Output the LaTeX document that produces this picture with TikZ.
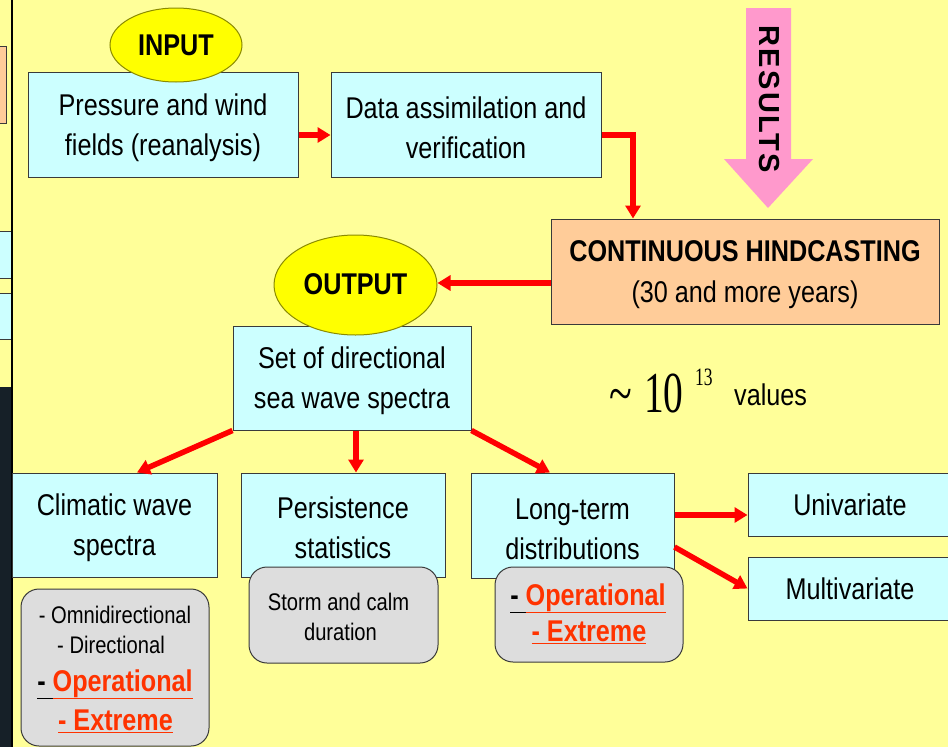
\documentclass[tikz,border=0pt]{standalone}
\usepackage{fontspec}
\usepackage{graphicx}
\setmainfont{Liberation Sans}[FakeStretch=0.84]
\newfontfamily\resfont{Liberation Sans}[LetterSpace=8]
\newfontfamily\timesfont{Liberation Serif}
\usetikzlibrary{shapes.geometric,arrows.meta}
\definecolor{bgyellow}{HTML}{FFFF99}
\definecolor{cyanfill}{HTML}{CCFFFF}
\definecolor{orangefill}{HTML}{FFCC99}
\definecolor{grayfill}{HTML}{DDDDDD}
\definecolor{boxline}{HTML}{3A3A3A}
\definecolor{ellfill}{HTML}{FFFF00}
\definecolor{ellline}{HTML}{8A8A00}
\definecolor{arrowred}{HTML}{FF0000}
\definecolor{opred}{HTML}{FF3300}
\definecolor{pinkarrow}{HTML}{FF99CC}
\definecolor{stripdark}{HTML}{162028}
\newcommand{\topstrut}{\rule{0pt}{28pt}}
\tikzset{
  cbox/.style={draw=boxline, fill=cyanfill, line width=1pt, align=center, inner sep=0pt, font=\fontsize{30}{40}\selectfont},
  obox/.style={draw=boxline, fill=orangefill, line width=1pt, align=center, inner sep=0pt, font=\fontsize{30}{41}\selectfont},
  gbox/.style={draw=boxline, fill=grayfill, rounded corners=18pt, line width=1pt, inner sep=0pt},
  ell/.style={ellipse, draw=ellline, fill=ellfill, line width=1pt, inner sep=0pt, font=\bfseries\fontsize{30}{30}\selectfont},
  redarrow/.style={draw=arrowred, line width=5.5pt, -{Triangle[length=13pt,width=15pt]}},
  lbl/.style={inner sep=0pt, anchor=base},
  small/.style={font=\fontsize{24}{24}\selectfont},
  big/.style={font=\bfseries\fontsize{30}{30}\selectfont, text=opred},
  numtext/.style={inner sep=0pt, anchor=base west},
}
\begin{document}
\begin{tikzpicture}[x=1pt,y=-1pt]
\useasboundingbox (0,0) rectangle (948,747);
\fill[bgyellow] (0,0) rectangle (948,747);
% left strip (cut-off slide parts)
\fill[stripdark] (0,387) rectangle (11,747);
\draw[boxline, fill=orangefill] (-5,46) rectangle (6,123);
\draw[boxline, fill=cyanfill] (-5,231) rectangle (11,278);
\draw[boxline, fill=cyanfill] (-5,293) rectangle (11,339);
\draw[black, line width=2pt] (11.5,-2) -- (11.5,749);

% results arrow
\fill[pinkarrow] (746,8) -- (791,8) -- (791,159) -- (813,159) -- (768,208) -- (724,159) -- (746,159) -- cycle;
\node[rotate=-90, inner sep=0pt, font=\resfont\bfseries\fontsize{29}{29}\selectfont] (res) at (769,99) {RESULTS};

% main boxes
\node[cbox, minimum width=270pt, minimum height=105pt] (press) at (163,124.5) {\topstrut Pressure and wind\\fields (reanalysis)};
\node[cbox, minimum width=270pt, minimum height=105pt] (data) at (466,124.5) {\topstrut Data assimilation and\\verification};
\node[obox, minimum width=388pt, minimum height=105pt] (hind) at (745,271.5) {\topstrut\textbf{CONTINUOUS HINDCASTING}\\(30 and more years)};
\node[cbox, minimum width=238pt, minimum height=104pt] (set) at (352,378) {\topstrut Set of directional\\sea wave spectra};
\node[cbox, minimum width=205pt, minimum height=104pt] (clim) at (114.5,525) {\topstrut Climatic wave\\spectra};
\node[cbox, minimum width=204pt, minimum height=104pt] (pers) at (343,525) {\topstrut Persistence\\statistics};
\node[cbox, minimum width=203pt, minimum height=105pt] (long) at (572.5,525.5) {\topstrut Long-term\\distributions};
\node[cbox, minimum width=204pt, minimum height=63pt] (uni) at (850,504.5) {Univariate};
\node[cbox, minimum width=204pt, minimum height=63pt] (multi) at (850,588.5) {Multivariate};

% ellipses
\node[ell, minimum width=132pt, minimum height=74pt] (inp) at (176,45) {INPUT};
\node[ell, minimum width=163pt, minimum height=100pt] (outp) at (355.5,285) {\raisebox{1.5pt}{OUTPUT}};

% gray sub boxes
\node[gbox, minimum width=188pt, minimum height=157pt] (climsub) at (115,667.5) {};
\node[gbox, minimum width=189pt, minimum height=96pt] (stormbox) at (343.5,615) {};
\node[gbox, minimum width=188pt, minimum height=95pt] (longsub) at (589,614.5) {};

\node[lbl, small] (omni) at (115,623) {- Omnidirectional};
\node[lbl, small] (dirl) at (111,653) {- Directional};
\node[lbl, big] (op1) at (115,691) {\textcolor{black}{\underline{\vphantom{p}-\ }}\underline{Operational}};
\node[lbl, big] (ex1) at (115.5,730) {\underline{- Extreme}};
\node[lbl, small] (storm1) at (338.5,610) {Storm and calm};
\node[lbl, small] (storm2) at (340.5,640) {duration};
\node[lbl, big] (op2) at (588,605) {\textcolor{black}{\underline{\vphantom{p}-\ }}\underline{Operational}};
\node[lbl, big] (ex2) at (589,641) {\underline{- Extreme}};

% 10^13 values
\node[numtext] (tildesym) at (609,412) {\fontsize{56}{56}\selectfont\scalebox{0.75}[1]{\timesfont\textasciitilde}};
\node[numtext] (ten) at (644,412) {\fontsize{58}{58}\selectfont\scalebox{0.68}[1]{\timesfont 10}};
\node[numtext] (expo) at (695,385) {\fontsize{25}{25}\selectfont\scalebox{0.7}[1]{\timesfont 13}};
\node[numtext, font=\fontsize{30}{30}\selectfont] (vals) at (734,405) {values};

% connectors
\draw[redarrow] ([yshift=-10.5pt]press.east) -- ([yshift=-10.5pt]data.west);
\draw[redarrow] ([yshift=-10.5pt]data.east) -| ([xshift=-112pt]hind.north);
\draw[redarrow] ([yshift=-11.5pt]hind.west) -- ([yshift=2pt]outp.east);
\draw[redarrow] (set.south west) -- ([xshift=22.5pt]clim.north);
\draw[redarrow] ([xshift=4pt]set.south) -- ([xshift=13pt]pers.north);
\draw[redarrow] (set.south east) -- ([xshift=-22.5pt]long.north);
\draw[redarrow] ([yshift=10.5pt]long.east) -- ([yshift=-10.5pt]uni.west);
\draw[redarrow] ([yshift=-21.5pt]long.east) -- (multi.west);
\end{tikzpicture}
\end{document}
